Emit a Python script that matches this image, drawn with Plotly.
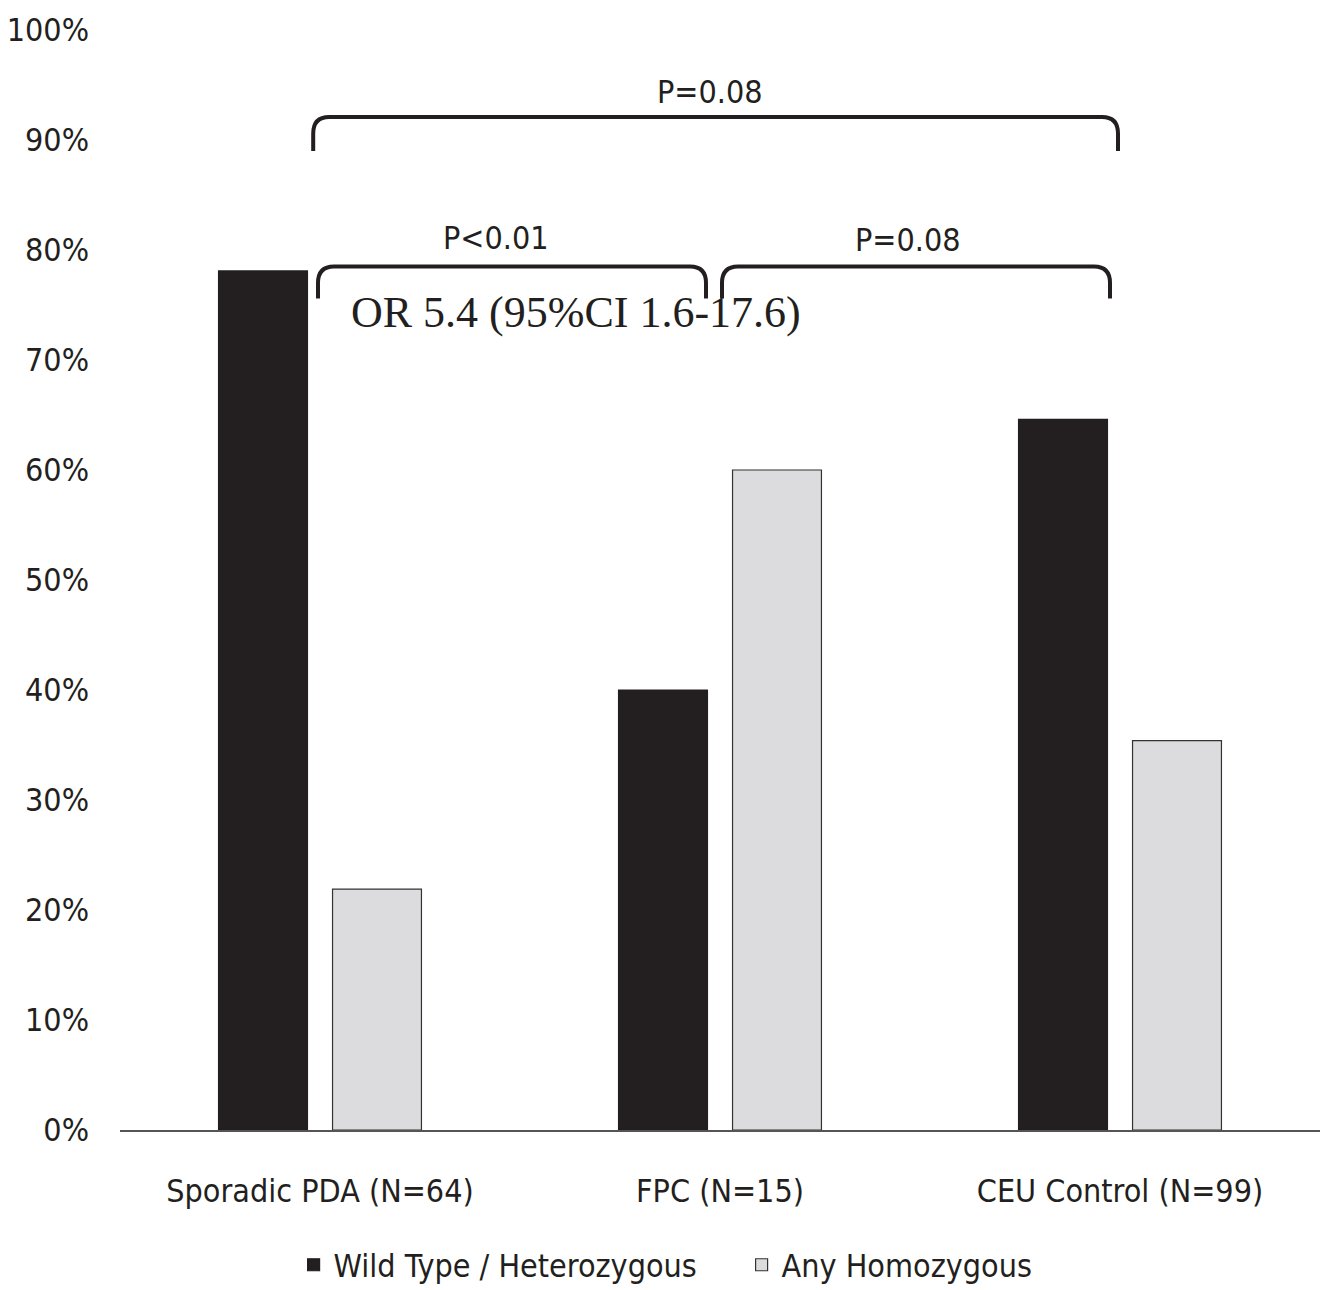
import plotly.graph_objects as go

categories = ["Sporadic PDA (N=64)", "FPC (N=15)", "CEU Control (N=99)"]
wild_het = [78.1, 40.0, 64.6]
any_homo = [21.9, 60.0, 35.4]
series_names = ["Wild Type / Heterozygous", "Any Homozygous"]
y_ticks = [0, 10, 20, 30, 40, 50, 60, 70, 80, 90, 100]
y_tick_text = [f"{v}%" for v in y_ticks]

# comparison brackets: (x_start, x_end, y_top, y_bottom, label, label_x, label_y)
brackets = [
    (-0.017, 1.995, 92.1, 89.0, "P=0.08", 0.975, 94.4),
    (-0.005, 0.965, 78.5, 75.6, "P<0.01", 0.44, 81.1),
    (1.005, 1.975, 78.5, 75.6, "P=0.08", 1.47, 80.9),
]
or_text = "OR 5.4 (95%CI 1.6-17.6)"

SANS = "Liberation Sans Narrow, Arial Narrow, DejaVu Sans Condensed, sans-serif"
SERIF = "Liberation Serif, Times New Roman, serif"
FS = 32
x_idx = list(range(len(categories)))

fig = go.Figure()
fig.add_trace(go.Bar(x=x_idx, y=wild_het, name=series_names[0],
                     marker=dict(color="#231f20", line=dict(color="#231f20", width=1.2))))
fig.add_trace(go.Bar(x=x_idx, y=any_homo, name=series_names[1],
                     marker=dict(color="#dcdcde", line=dict(color="#333333", width=1.2))))

rx, ry = 0.04, 1.5
for (xa, xb, yt, yb, lab, lx, ly) in brackets:
    path = (f"M {xa},{yb} L {xa},{yt-ry} Q {xa},{yt} {xa+rx},{yt} "
            f"L {xb-rx},{yt} Q {xb},{yt} {xb},{yt-ry} L {xb},{yb}")
    fig.add_shape(type="path", path=path, xref="x", yref="y",
                  line=dict(color="#231f20", width=4))
    fig.add_annotation(x=lx, y=ly, xref="x", yref="y", text=lab, showarrow=False,
                       font=dict(family=SANS, size=FS, color="#231f20"))

fig.add_annotation(x=0.64, y=74.3, xref="x", yref="y", text=or_text, showarrow=False,
                   font=dict(family=SERIF, size=44, color="#231f20"))

fig.update_layout(
    width=1324, height=1290,
    margin=dict(l=120, r=4, t=30, b=160, autoexpand=False),
    paper_bgcolor="white", plot_bgcolor="white",
    barmode="group", bargap=0.43, bargroupgap=0.22,
    font=dict(family=SANS, size=FS, color="#231f20"),
    legend=dict(orientation="h", x=0.518, xanchor="center", y=-0.1227, yanchor="middle",
                font=dict(family=SANS, size=FS, color="#231f20"),
                entrywidth=403, entrywidthmode="pixels"),
    showlegend=True,
)
fig.update_xaxes(range=[-0.5, 2.5], tickvals=x_idx, ticktext=categories,
                 showgrid=False, zeroline=False, showline=True, linecolor="#555555",
                 linewidth=2, ticks="", ticklabelstandoff=32, automargin=False)
fig.update_yaxes(range=[0, 100], tickvals=y_ticks, ticktext=y_tick_text,
                 showgrid=False, zeroline=False, showline=False, ticks="",
                 ticklabelstandoff=30, automargin=False)

fig.write_html("out.html", config={"displayModeBar": False},
               post_script="document.body.style.margin='0';document.body.style.overflow='hidden';")
